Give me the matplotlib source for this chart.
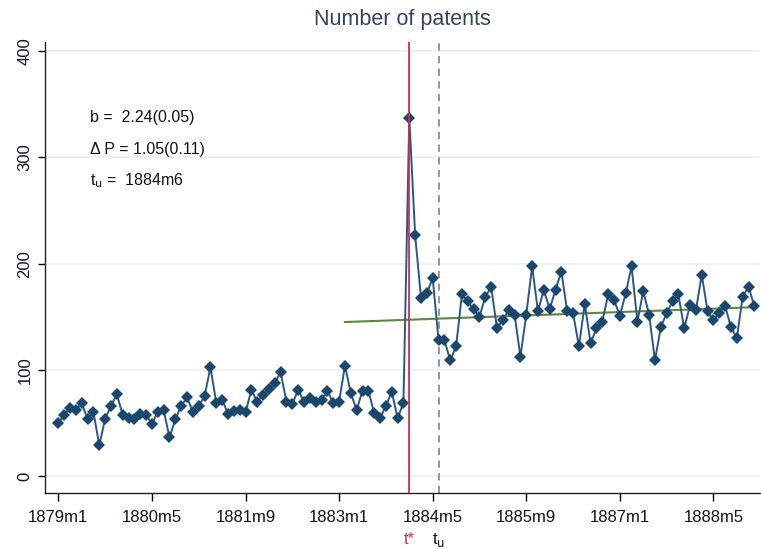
import matplotlib

matplotlib.use("Agg")
import matplotlib.pyplot as plt
import matplotlib.transforms as mtransforms

plt.rcParams["font.family"] = ["Liberation Sans", "DejaVu Sans"]

# monthly counts, 1879m1 .. 1888m12
patents = [
    50, 57.5, 64, 62, 68.5, 53.5, 60, 29, 54, 66,
    77, 57.5, 55, 54, 58.5, 57.5, 49, 60.5, 62, 36.5,
    53.5, 66, 74, 60.5, 66, 75, 102.5, 69, 72, 58.5,
    61.5, 62, 60, 81, 70, 76.5, 82, 88, 97.5, 70,
    68, 81, 70, 73, 70, 72, 80, 69, 70, 104,
    78, 62, 80.5, 80.5, 59, 54.5, 66, 79.5, 54.5, 69,
    337.5, 227, 168, 172, 186.5, 128, 128, 109, 122, 171,
    164.5, 157, 150, 169, 178, 139, 147, 156.5, 152, 112.5,
    152, 197.5, 155, 175.5, 157, 175.5, 192.5, 155, 153.5, 122,
    162, 125, 139, 145.5, 171, 166, 151, 172, 197.5, 145.5,
    174, 152, 109, 140, 153.5, 164.5, 171, 139, 161, 156,
    189.5, 155, 147, 153.5, 160, 140, 130, 169, 178, 160,
]
months = list(range(len(patents)))

tick_labels = ["1879m1", "1880m5", "1881m9", "1883m1", "1884m5", "1885m9", "1887m1", "1888m5"]
tick_pos = list(range(0, 16 * len(tick_labels), 16))

trend_x = [49, 119]
trend_y = [145, 159]

t_star = 60   # 1884m1
t_u = 65      # 1884m6

stats_lines = ["b =  2.24(0.05)", "\u0394 P = 1.05(0.11)", r"t$_{\mathrm{u}}$ =  1884m6"]

navy = "#1a476f"
red = "#d7294f"

fig = plt.figure(figsize=(7.61, 5.49), dpi=100)
ax = fig.add_axes([0.059, 0.102, 0.94, 0.822])

for v in [0, 100, 200, 300, 400]:
    ax.axhline(v, color="#eaf2f3", lw=1.2, zorder=0)

ax.plot(trend_x, trend_y, color="#5a8a3a", lw=1.5, zorder=2)
ax.plot(months, patents, color="#2a5882", lw=1.4, zorder=3)
ax.plot(months, patents, ls="none", marker="D", markersize=6.5,
        color=navy, markeredgewidth=0, zorder=3)

ax.axvline(t_star, color=red, lw=1.3, zorder=4)
ax.axvline(t_u, color="#8c8c8c", lw=1.3, ls=(0, (4, 3)), zorder=1)

ax.set_xlim(-2.3, 120)
ax.set_ylim(-16, 409)
ax.set_xticks(tick_pos)
ax.set_xticklabels(tick_labels, fontsize=12, color="#111122")
ax.set_yticks([0, 100, 200, 300, 400])
ax.set_yticklabels(["0", "100", "200", "300", "400"], fontsize=12, rotation=90,
                   va="center", color="#111122")
ax.tick_params(axis="x", length=6, width=1, pad=6)
ax.tick_params(axis="y", length=5, width=1, pad=4)

for side in ["top", "right"]:
    ax.spines[side].set_visible(False)
for side in ["left", "bottom"]:
    ax.spines[side].set_color("#222222")
    ax.spines[side].set_linewidth(1)

ax.set_title("Number of patents", fontsize=15.5, color="#34445c", pad=12)

for i, line in enumerate(stats_lines):
    ax.text(0.063, 0.831 - i * 0.069, line, transform=ax.transAxes,
            fontsize=11.5, color="#111111", va="center")

trans = mtransforms.blended_transform_factory(ax.transData, ax.transAxes)
ax.text(t_star, -0.104, "t*", transform=trans, ha="center", va="center",
        fontsize=12, color=red)
ax.text(t_u, -0.104, r"t$_{\mathrm{u}}$", transform=trans, ha="center", va="center",
        fontsize=12, color="#111111")

fig.savefig("out.png", dpi=100)
